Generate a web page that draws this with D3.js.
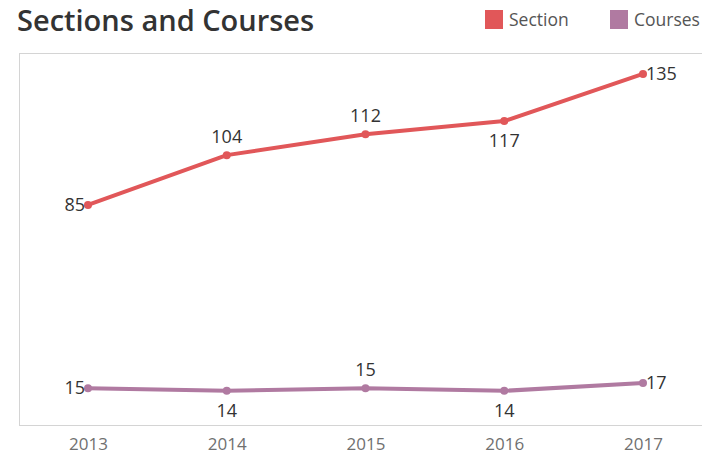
<!DOCTYPE html>
<html><head><meta charset="utf-8">
<script src="https://cdn.jsdelivr.net/npm/d3@7"></script>
<style>body{margin:0;background:#fff}</style>
</head><body>
<svg id="c" width="702" height="459"></svg>
<script>
const years = ["2013","2014","2015","2016","2017"];
const sectionValues = [85,104,112,117,135];
const courseValues = [15,14,15,14,17];
const sectionLabelPos = ["left","above","above","below","right"];
const courseLabelPos = ["left","below","above","below","right"];
const seriesNames = ["Section","Courses"];
const seriesColors = ["#e15759","#b07aa1"];

const svg = d3.select("#c");
const font = "'Open Sans', sans-serif";
const x = d3.scalePoint().domain(years).range([88,643]);
const y = d3.scaleLinear().domain([0,143]).range([427.5,53]);

// frame
svg.append("line").attr("x1",19.5).attr("x2",19.5).attr("y1",53).attr("y2",425).attr("stroke","#d4d4d4");
svg.append("line").attr("x1",19).attr("x2",702).attr("y1",53.5).attr("y2",53.5).attr("stroke","#d4d4d4");
svg.append("line").attr("x1",19).attr("x2",702).attr("y1",425.5).attr("y2",425.5).attr("stroke","#d4d4d4");

// x axis
const xa = svg.append("g").attr("transform","translate(0,426)").call(d3.axisBottom(x).tickSize(0).tickPadding(12));
xa.select(".domain").remove();
xa.selectAll("text").attr("font-family",font).attr("font-size",17).attr("fill","#707070");

// title
svg.append("text").attr("x",17).attr("y",31).text("Sections and Courses")
  .attr("font-family",font).attr("font-size",29).attr("font-weight",600).attr("fill","#333");

// legend
const legX = [485,610];
seriesNames.forEach((n,i)=>{
  svg.append("rect").attr("x",legX[i]).attr("y",10).attr("width",18).attr("height",19).attr("fill",seriesColors[i]);
  svg.append("text").attr("x",legX[i]+24).attr("y",26).text(n).attr("font-family",font).attr("font-size",17.5).attr("fill","#555");
});

const series = [sectionValues, courseValues];
const labelPos = [sectionLabelPos, courseLabelPos];
const line = d3.line().x((d,i)=>x(years[i])).y(d=>y(d));
series.forEach((vals,si)=>{
  svg.append("path").datum(vals).attr("d",line).attr("fill","none")
    .attr("stroke",seriesColors[si]).attr("stroke-width",4).attr("stroke-linejoin","round");
  svg.selectAll(null).data(vals).enter().append("circle")
    .attr("cx",(d,i)=>x(years[i])).attr("cy",d=>y(d)).attr("r",4).attr("fill",seriesColors[si]);
  svg.selectAll(null).data(vals).enter().append("text")
    .attr("x",(d,i)=>{const p=labelPos[si][i];return x(years[i])+(p==="left"?-3:p==="right"?3:0);})
    .attr("y",(d,i)=>{const p=labelPos[si][i];return y(d)+(p==="above"?-12:p==="below"?26:6);})
    .attr("text-anchor",(d,i)=>{const p=labelPos[si][i];return p==="left"?"end":p==="right"?"start":"middle";})
    .attr("font-family",font).attr("font-size",18).attr("fill","#333").text(d=>d);
});
</script>
</body></html>
